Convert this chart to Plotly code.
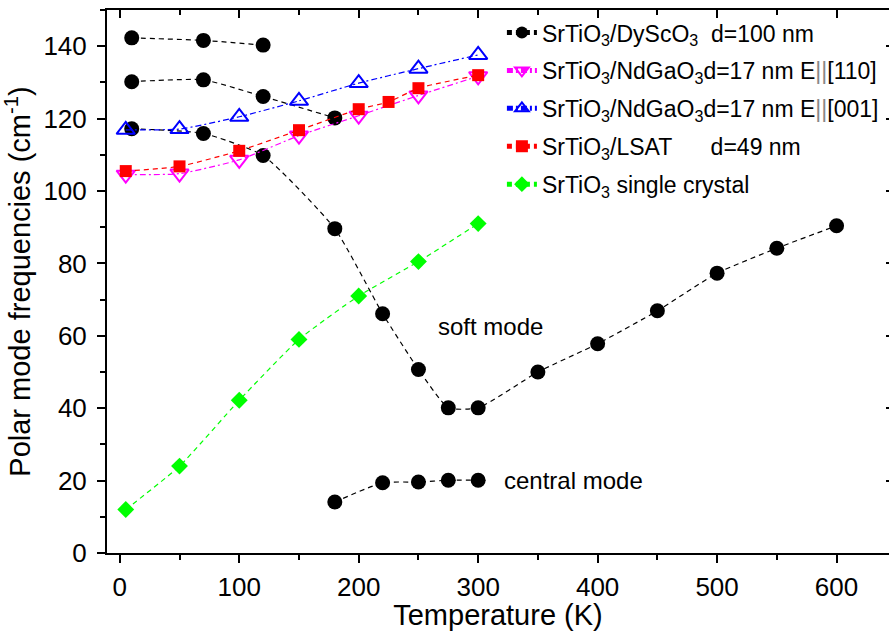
import plotly.graph_objects as go

# Temperatures (K) and polar mode frequencies (cm^-1)
# SrTiO3 on DyScO3, d = 100 nm: four branches
T_dy_high = [10, 70, 120]
f_dy_high = [142.3, 141.6, 140.3]
T_dy_mid = [10, 70, 120, 180]
f_dy_mid = [130.2, 130.7, 126.1, 120.2]
T_dy_soft = [10, 70, 120, 180, 220, 250, 275, 300, 350, 400, 450, 500, 550, 600]
f_dy_soft = [117.2, 115.9, 109.8, 89.6, 66.1, 50.7, 40.1, 40.1, 50.0, 57.8, 66.9, 77.3, 84.2, 90.4]
T_dy_central = [180, 220, 250, 275, 300]
f_dy_central = [14.1, 19.4, 19.6, 20.1, 20.1]

# SrTiO3 on NdGaO3, d = 17 nm
T_ndg_110 = [5, 50, 100, 150, 200, 250, 300]
f_ndg_110 = [104.5, 104.8, 108.6, 115.3, 120.8, 126.4, 131.7]
T_ndg_001 = [5, 50, 100, 150, 200, 250, 300]
f_ndg_001 = [116.9, 117.1, 120.5, 124.9, 129.8, 133.8, 137.6]

# SrTiO3 on LSAT, d = 49 nm
T_lsat = [5, 50, 100, 150, 200, 225, 250, 300]
f_lsat = [105.5, 106.8, 111.1, 116.8, 122.6, 124.6, 128.4, 132.0]

# SrTiO3 single crystal
T_sc = [5, 50, 100, 150, 200, 250, 300]
f_sc = [12.0, 24.0, 42.2, 59.0, 71.0, 80.5, 91.0]

x_ticks = [0, 100, 200, 300, 400, 500, 600]
y_ticks = [0, 20, 40, 60, 80, 100, 120, 140]

FONT = "Arial, 'Liberation Sans', sans-serif"
NB = "\u00a0"
X_RANGE = [-10.7, 643.9]
Y_RANGE = [0, 150]

fig = go.Figure()

def add_series(x, y, name, color, symbol, size, dash, group, show, open_marker=False):
    marker = dict(symbol=symbol, size=size, color=color)
    if open_marker:
        marker = dict(symbol=symbol, size=size, color=color,
                      line=dict(color=color, width=2))
    fig.add_trace(go.Scatter(
        x=x, y=y, mode="lines+markers", name=name,
        line=dict(color=color, width=1.2, dash=dash, shape="spline", smoothing=0.5),
        marker=marker, legendgroup=group, showlegend=show,
    ))

dy_name = f"SrTiO<sub>3</sub>/DyScO<sub>3</sub>{NB}{NB}d=100 nm"
dash_black = "5px,4px"
add_series(T_dy_high, f_dy_high, dy_name, "black", "circle", 15, dash_black, "dy", True)
add_series(T_dy_mid, f_dy_mid, dy_name, "black", "circle", 15, dash_black, "dy", False)
add_series(T_dy_soft, f_dy_soft, dy_name, "black", "circle", 15, dash_black, "dy", False)
add_series(T_dy_central, f_dy_central, dy_name, "black", "circle", 15, dash_black, "dy", False)

add_series(T_ndg_110, f_ndg_110,
           f"SrTiO<sub>3</sub>/NdGaO<sub>3</sub>d=17 nm E<span style='color:#888'>||</span>[110]",
           "#FF00FF", "triangle-down-open", 16, "6px,3px,2px,3px", "n110", True, open_marker=True)
add_series(T_ndg_001, f_ndg_001,
           f"SrTiO<sub>3</sub>/NdGaO<sub>3</sub>d=17 nm E<span style='color:#888'>||</span>[001]",
           "#0000FF", "triangle-up-open", 16, "6px,3px,2px,3px", "n001", True, open_marker=True)
add_series(T_lsat, f_lsat, f"SrTiO<sub>3</sub>/LSAT{NB * 6}d=49 nm",
           "#FF0000", "square", 12, "5px,4px", "lsat", True)
add_series(T_sc, f_sc, "SrTiO<sub>3</sub> single crystal",
           "#00FF00", "diamond", 13, "5px,4px", "sc", True)

# empty trace that carries the mirrored top/right axes
fig.add_trace(go.Scatter(x=[None], y=[None], xaxis="x2", yaxis="y2",
                         showlegend=False, hoverinfo="skip"))

fig.add_annotation(x=265, y=62.5, text="soft mode", showarrow=False,
                   xanchor="left", yanchor="middle", font=dict(size=24, color="black", family=FONT))
fig.add_annotation(x=320, y=20, text="central mode", showarrow=False,
                   xanchor="left", yanchor="middle", font=dict(size=24, color="black", family=FONT))

axis_common = dict(showgrid=False, zeroline=False, linecolor="black", linewidth=2,
                   tickcolor="black", tickwidth=2)

fig.update_layout(
    width=889, height=631,
    margin=dict(l=107, r=0, t=10, b=78),
    paper_bgcolor="white", plot_bgcolor="white",
    font=dict(family=FONT, color="black"),
    xaxis=dict(range=X_RANGE, tickvals=x_ticks, showline=True, ticks="outside", ticklen=8,
               minor=dict(dtick=50, tick0=0, ticks="outside", ticklen=5, tickwidth=2, tickcolor="black"),
               tickfont=dict(size=26), ticklabelstandoff=2,
               title=dict(text="Temperature (K)", font=dict(size=29), standoff=8),
               **axis_common),
    yaxis=dict(range=Y_RANGE, tickvals=y_ticks, showline=True, ticks="outside", ticklen=8,
               minor=dict(dtick=10, tick0=0, ticks="outside", ticklen=5, tickwidth=2, tickcolor="black"),
               tickfont=dict(size=26), ticklabelstandoff=5,
               title=dict(text="Polar mode frequencies (cm<sup>-1</sup>)", font=dict(size=29), standoff=8),
               **axis_common),
    xaxis2=dict(range=X_RANGE, overlaying="x", side="top", anchor="y2", showline=True,
                tickvals=x_ticks, ticks="inside", ticklen=8, showticklabels=False,
                minor=dict(dtick=50, tick0=0, ticks="inside", ticklen=5, tickwidth=2, tickcolor="black"),
                **axis_common),
    yaxis2=dict(range=Y_RANGE, overlaying="y", side="right", anchor="x2", showline=False,
                tickvals=y_ticks, ticks="inside", ticklen=3, showticklabels=False,
                **axis_common),
    legend=dict(x=0.505, y=0.998, xanchor="left", yanchor="top", bgcolor="rgba(0,0,0,0)",
                font=dict(size=23), itemsizing="constant", traceorder="grouped",
                tracegroupgap=5),
    showlegend=True,
)

fig.write_html("out.html")
